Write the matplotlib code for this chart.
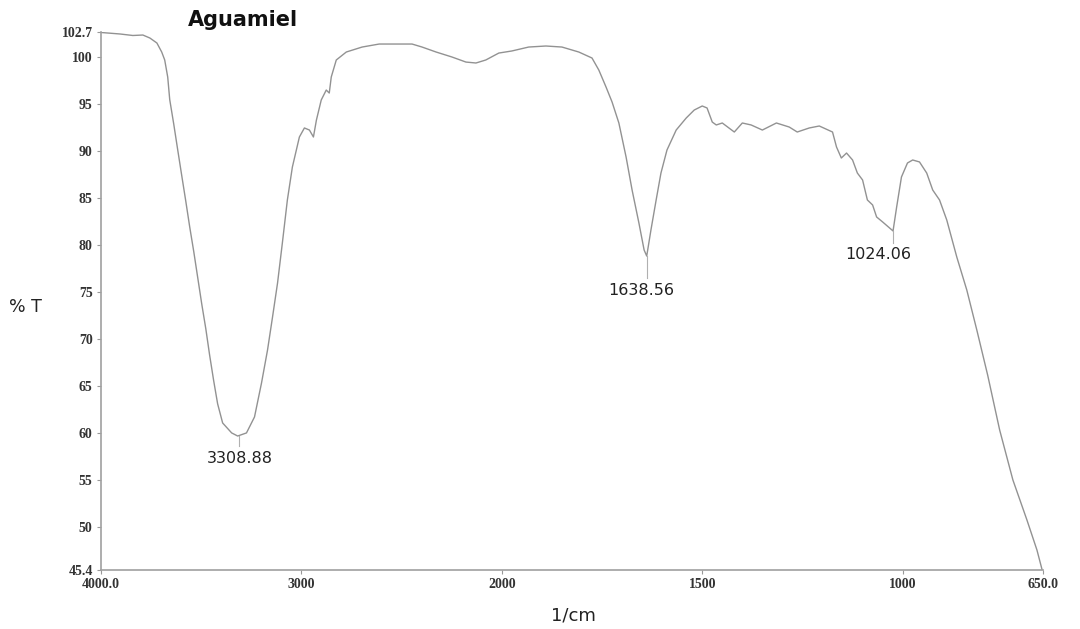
import matplotlib
matplotlib.use("Agg")
import matplotlib.pyplot as plt
import numpy as np

# spectrum (wavenumber in 1/cm, transmittance in %)
wavenumber = [4000, 3905, 3841, 3791, 3756, 3721, 3697, 3682, 3667, 3657,
              3637, 3617, 3597, 3577, 3557, 3537, 3517, 3497, 3477, 3458,
              3438, 3418, 3393, 3348, 3318, 3274, 3234, 3199, 3169, 3144,
              3119, 3095, 3070, 3045, 3010, 2985, 2960, 2940, 2925, 2901,
              2876, 2861, 2851, 2826, 2776, 2697, 2612, 2527, 2448, 2398,
              2328, 2249, 2179, 2129, 2080, 2015, 1975, 1933, 1890, 1850,
              1808, 1775, 1758, 1740, 1725, 1708, 1690, 1675, 1658, 1645,
              1638.5, 1628, 1615, 1603, 1588, 1565, 1540, 1520, 1500, 1488,
              1475, 1465, 1450, 1420, 1400, 1378, 1350, 1315, 1283, 1263,
              1233, 1208, 1175, 1165, 1153, 1140, 1125, 1113, 1100, 1088,
              1075, 1065, 1050, 1024, 1015, 1003, 988, 975, 958, 940,
              925, 908, 890, 865, 840, 815, 788, 758, 725, 690,
              665, 652]
transmittance = [102.65, 102.49, 102.33, 102.38, 102.06, 101.53, 100.57, 99.72, 97.9, 95.5,
                 92.9, 90.13, 87.4, 84.7, 81.9, 79.3, 76.5, 73.7, 71.1, 68.3,
                 65.6, 63.1, 61.06, 60.00, 59.67, 60.00, 61.70, 65.32, 68.83, 72.35,
                 75.97, 80.23, 84.81, 88.32, 91.52, 92.48, 92.26, 91.52, 93.33, 95.46,
                 96.52, 96.20, 97.91, 99.72, 100.57, 101.10, 101.42, 101.42, 101.42, 101.10,
                 100.57, 100.04, 99.50, 99.40, 99.72, 100.46, 100.68, 101.10, 101.21, 101.10,
                 100.57, 99.93, 98.65, 96.84, 95.25, 93.01, 89.39, 85.87, 82.36, 79.48,
                 78.84, 81.61, 84.81, 87.68, 90.13, 92.26, 93.54, 94.39, 94.82, 94.61,
                 93.11, 92.80, 93.01, 92.05, 93.01, 92.80, 92.26, 93.01, 92.58, 92.05,
                 92.48, 92.69, 92.05, 90.45, 89.28, 89.81, 89.07, 87.68, 86.94, 84.81,
                 84.28, 83.00, 82.47, 81.51, 84.06, 87.26, 88.75, 89.07, 88.86, 87.68,
                 85.87, 84.81, 82.68, 78.74, 75.22, 70.96, 66.17, 60.31, 54.99, 50.73,
                 47.53, 45.40]

peak_wn = [3308.88, 1638.56, 1024.06]
peak_t = [59.67, 78.84, 81.51]
peak_labels = ["3308.88", "1638.56", "1024.06"]

xticks = [4000, 3000, 2000, 1500, 1000, 650]
xtick_labels = ["4000.0", "3000", "2000", "1500", "1000", "650.0"]
yticks = [45.4, 50, 55, 60, 65, 70, 75, 80, 85, 90, 95, 100, 102.7]
ytick_labels = ["45.4", "50", "55", "60", "65", "70", "75", "80", "85", "90", "95", "100", "102.7"]


# the instrument halves the scale above 2000 1/cm
def fwd(x):
    x = np.asarray(x, dtype=float)
    return np.where(x > 2000, 2000 + (x - 2000) / 2, x)


def inv(u):
    u = np.asarray(u, dtype=float)
    return np.where(u > 2000, 2000 + 2 * (u - 2000), u)


fig = plt.figure(figsize=(10.8, 6.29), dpi=100)
ax = fig.add_axes([0.0935, 0.0938, 0.8722, 0.8553])
ax.set_xscale("function", functions=(fwd, inv))
ax.plot(wavenumber, transmittance, color="#929292", lw=1.0)
ax.set_xlim(4000, 650)
ax.set_ylim(45.4, 102.7)

# peak markers and labels
offsets = [(0, -22), (-5, -34), (-15, -24)]
for w, t, lab, (dx, dy) in zip(peak_wn, peak_t, peak_labels, offsets):
    ax.plot([w, w], [t, t - (abs(dy) - 12) * 0.1065], color="#b0b0b0", lw=0.8)
    ax.annotate(lab, xy=(w, t), xytext=(dx, dy), textcoords="offset pixels",
                ha="center", va="center", fontsize=11.5, color="#222222",
                family="DejaVu Sans")

ax.set_xticks(xticks)
ax.set_xticklabels(xtick_labels)
ax.set_yticks(yticks)
ax.set_yticklabels(ytick_labels)
ax.minorticks_off()
for lab in ax.get_xticklabels() + ax.get_yticklabels():
    lab.set_family("Liberation Serif")
    lab.set_fontweight("bold")
    lab.set_fontsize(10)
    lab.set_color("#333333")
ax.tick_params(axis="both", length=3, width=0.8, color="#999999", pad=3)

for side in ["top", "right"]:
    ax.spines[side].set_visible(False)
for side in ["left", "bottom"]:
    ax.spines[side].set_color("#a0a0a0")
    ax.spines[side].set_linewidth(1.2)

fig.text(188 / 1080, 1 - 20 / 629, "Aguamiel", fontsize=15, fontweight="bold",
         family="DejaVu Sans", ha="left", va="center", color="#111111")
fig.text(9 / 1080, 1 - 307 / 629, "% T", fontsize=12.5, ha="left", va="center",
         color="#222222")
fig.text(573 / 1080, 1 - 616 / 629, "1/cm", fontsize=13, ha="center", va="center",
         color="#222222")

fig.savefig("out.png", dpi=100)
